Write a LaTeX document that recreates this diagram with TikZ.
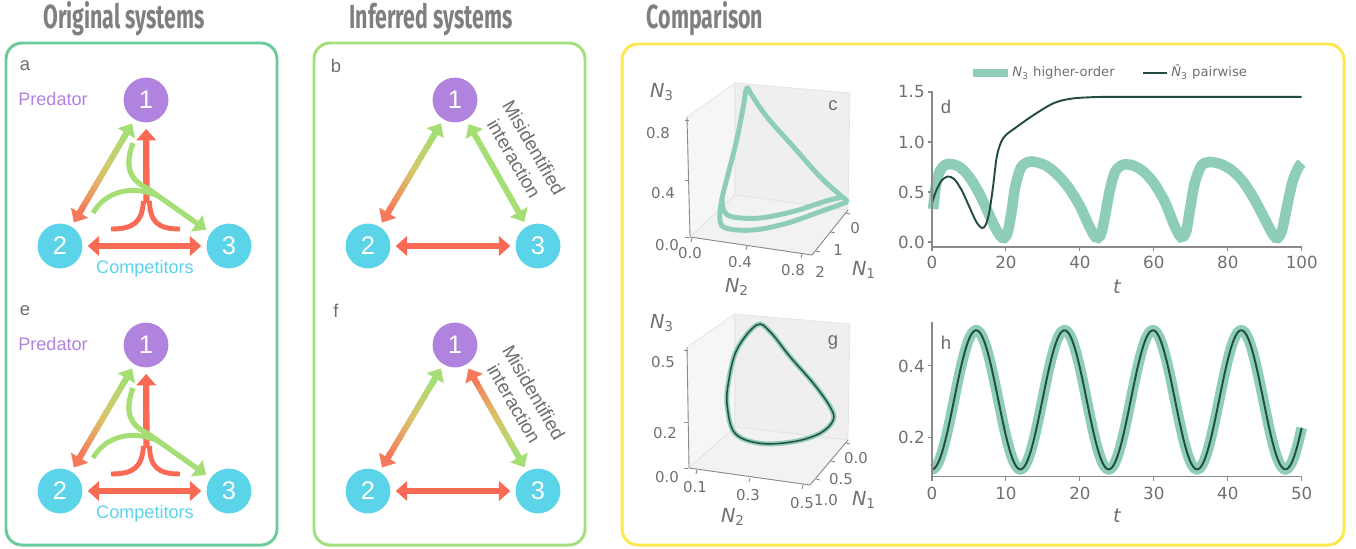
\documentclass[tikz,border=0pt]{standalone}
\usepackage{fontspec}
\setmainfont{Liberation Sans}
\newfontfamily\titlefont{Fira Sans}[FakeStretch=0.64]
\newfontfamily\plotfont{DejaVu Sans}
\usetikzlibrary{arrows.meta,calc}
\definecolor{boxorig}{HTML}{6CCB9C}
\definecolor{boxinf}{HTML}{A3DF7B}
\definecolor{boxcomp}{HTML}{FCE74E}
\definecolor{titlegray}{HTML}{7F7F7F}
\definecolor{lblgray}{HTML}{6E6E6E}
\definecolor{predcol}{HTML}{B083DE}
\definecolor{compcol}{HTML}{5BD3E8}
\definecolor{linkred}{HTML}{F96A55}
\definecolor{linkorange}{HTML}{F5795A}
\definecolor{linkmid}{HTML}{D9C56A}
\definecolor{linkgreen}{HTML}{A5DE74}
\definecolor{highcol}{HTML}{8ECDB9}
\definecolor{paircol}{HTML}{234D3E}
\definecolor{axgray}{HTML}{8A8A8A}
\definecolor{tickgray}{HTML}{707070}
\definecolor{paneside}{HTML}{F6F6F6}
\definecolor{paneback}{HTML}{EFEFEF}
\definecolor{panefloor}{HTML}{F2F2F2}

% double arrow whose colour runs from #3 (at node #1) over linkmid to #4 (at node #2)
\newcommand\gradlink[4]{%
  \coordinate (gA) at ($(#1)!21pt!(#2)$);
  \coordinate (gB) at ($(#2)!21pt!(#1)$);
  \foreach \k in {0,...,15}{%
    \pgfmathtruncatemacro\mixpc{100*\k/15}
    \ifnum\mixpc<50
      \pgfmathtruncatemacro\mixlo{2*\mixpc}\def\segcol{linkmid!\mixlo!#3}%
    \else
      \pgfmathtruncatemacro\mixhi{2*\mixpc-100}\def\segcol{#4!\mixhi!linkmid}%
    \fi
    \draw[line width=3.4pt, color=\segcol] ($(gA)!{\k/16}!(gB)$) -- ($(gA)!{(\k+1.2)/16}!(gB)$);
  }
  \draw[line width=3.4pt, #3, ->] ($(#1)!26pt!(#2)$) -- ($(#1)!15.5pt!(#2)$);
  \draw[line width=3.4pt, #4, ->] ($(#2)!26pt!(#1)$) -- ($(#2)!15.5pt!(#1)$);
}

\begin{document}
\begin{tikzpicture}[x=0.02cm, y=-0.02cm, >={Triangle[width=11pt,length=6.5pt]},
  sysbox/.style={line width=1.7pt, rounded corners=0.32cm},
  paneltitle/.style={font=\titlefont\bfseries\fontsize{19}{19}\selectfont, text=titlegray, anchor=base},
  panellbl/.style={font=\fontsize{10.5}{10.5}\selectfont, text=lblgray},
  pred/.style={circle, fill=predcol, text=white, minimum size=25.5pt, inner sep=0pt, font=\fontsize{14.5}{14.5}\selectfont},
  comp/.style={pred, fill=compcol},
  grouptext/.style={font=\fontsize{10.3}{10.3}\selectfont},
  misid/.style={font=\fontsize{10.8}{13}\selectfont, text=lblgray, rotate=-60, align=center},
  redlink/.style={draw=linkred, line width=3.6pt},
  greenlink/.style={draw=linkgreen, line width=3.4pt},
  redtail/.style={draw=linkred, line width=2.8pt},
  greentail/.style={draw=linkgreen, line width=2.8pt},
  pane/.style={draw=gray!22, line width=0.4pt},
  axline/.style={draw=axgray, line width=0.5pt},
  spine/.style={draw=axgray, line width=0.6pt},
  ticklbl/.style={font=\plotfont\fontsize{9.5}{9.5}\selectfont, text=tickgray, inner sep=0pt},
  smalltick/.style={ticklbl, font=\plotfont\fontsize{8.5}{8.5}\selectfont},
  axlbl/.style={font=\plotfont\itshape\fontsize{11}{11}\selectfont, text=tickgray, inner sep=0pt},
  legtext/.style={font=\plotfont\fontsize{7.5}{7.5}\selectfont, text=tickgray, inner sep=0pt},
  higher/.style={draw=highcol, line cap=butt},
  pairw/.style={draw=paircol, line width=1.1pt},
]
\useasboundingbox (0,0) rectangle (1356,548);

% titles and frames
\node[paneltitle] (tOrig) at (124,28) {Original systems};
\node[paneltitle] (tInf) at (431,28) {Inferred systems};
\node[paneltitle] (tComp) at (705,28) {Comparison};
\draw[sysbox, boxorig] (6,43) rectangle (277,545);
\draw[sysbox, boxinf] (314,43) rectangle (585,545);
\draw[sysbox, boxcomp] (622,44) rectangle (1344,545);

% original systems (a, e)
\foreach \lbl/\dy in {a/0,e/245}{
  \begin{scope}[shift={(0,\dy)}]
    \node[panellbl] (lbl\lbl) at (25,66) {\lbl};
    \node[pred] (p1\lbl) at (146,100) {1};
    \node[comp] (p2\lbl) at (60,246) {2};
    \node[comp] (p3\lbl) at (229,246) {3};
    \node[grouptext, text=predcol] (pt\lbl) at (53,99) {Predator};
    \node[grouptext, text=compcol] (ct\lbl) at (145,269) {Competitors};
    % pairwise
    \gradlink{p2\lbl}{p1\lbl}{linkorange}{linkgreen}
    \draw[redlink, <->, shorten <=2.8pt, shorten >=2.8pt] (p2\lbl) -- (p3\lbl);
    % 2 and 3 acting on 1
    \coordinate (rl\lbl) at (111,229);
    \coordinate (rr\lbl) at (180,229);
    \coordinate (rj\lbl) at (146.5,203);
    \draw[redtail] (rl\lbl) .. controls (134,229) and (142,222) .. (143.5,201);
    \draw[redtail] (rr\lbl) .. controls (158,229) and (150,222) .. (149.5,201);
    \draw[redlink, ->, shorten >=3.5pt] (rj\lbl) -- (p1\lbl);
    % 1 and 2 acting on 3
    \coordinate (gl\lbl) at (133,143);
    \coordinate (gk\lbl) at (93,213);
    \coordinate (gj\lbl) at (147,188);
    \coordinate (gm\lbl) at (158,196);
    \draw[greentail, line width=3pt, ->, shorten >=3pt] (gl\lbl) .. controls (124,167) and (130,180) .. (gj\lbl) -- (p3\lbl);
    \draw[greentail] (gk\lbl) .. controls (106,190) and (134,185) .. (gm\lbl);
  \end{scope}
}

% inferred systems (b, f)
\foreach \lbl/\dy in {b/0,f/245}{
  \begin{scope}[shift={(0,\dy)}]
    \node[panellbl] (lbl\lbl) at (336,66) {\lbl};
    \node[pred] (p1\lbl) at (455,100) {1};
    \node[comp] (p2\lbl) at (368,246) {2};
    \node[comp] (p3\lbl) at (538,246) {3};
    \node[misid] (mi\lbl) at (524,153) {Misidentified\\interaction};
    \gradlink{p2\lbl}{p1\lbl}{linkorange}{linkgreen}
    \draw[redlink, <->, shorten <=2.8pt, shorten >=2.8pt] (p2\lbl) -- (p3\lbl);
  \end{scope}
}
\draw[greenlink, <->, shorten <=2.8pt, shorten >=2.8pt] (p1b) -- (p3b);
\gradlink{p1f}{p3f}{linkorange}{linkgreen}

% c: phase space, higher-order
\coordinate (cF) at (690,237); \coordinate (cB) at (735,195);
\coordinate (cR) at (848,210); \coordinate (cFR) at (812,255);
\coordinate (cFT) at (687,117); \coordinate (cBT) at (735,83); \coordinate (cRT) at (850,93);
\filldraw[pane, fill=paneside] (cF) -- (cB) -- (cBT) -- (cFT) -- cycle;
\filldraw[pane, fill=paneback] (cB) -- (cR) -- (cRT) -- (cBT) -- cycle;
\filldraw[pane, fill=panefloor] (cF) -- (cFR) -- (cR) -- (cB) -- cycle;
\draw[axline] (cFT) -- (cF) -- (cFR) -- (cR);
\foreach \yy in {120,180,237} \draw[axline] (689,\yy) -- ++(-4,0);
\foreach \xx/\yy in {692/238,747/246,802/254} \draw[axline] (\xx,\yy) -- ++(-1,4);
\foreach \xx/\yy in {846/213,831/232,816/251} \draw[axline] (\xx,\yy) -- ++(4,1);
\draw[higher, line width=2.8pt, line join=round] plot[smooth cycle, tension=0.6] coordinates {(746.7,88.3) (743.3,106.7) (736.7,140) (728.3,173.3) (721.7,200) (720,220) (726.7,228.3) (753.3,230) (786.7,223.3) (820,211.7) (843.3,203.3) (846.7,200.7) (840,195) (820,176.7) (793.3,146.7) (766.7,116.7) (751.7,95)};
\draw[higher, line width=2.8pt] plot[smooth, tension=0.6] coordinates {(722,199) (724,211) (733,217) (760,218) (795,211) (826,201) (843,197)};
\node[smalltick] (cz8) at (658,133) {0.8};
\node[smalltick] (cz4) at (663,193) {0.4};
\node[smalltick] (cz0) at (667,245) {0.0};
\node[smalltick] (cx0) at (690,253) {0.0};
\node[smalltick] (cx4) at (740,262) {0.4};
\node[smalltick] (cx8) at (793,270) {0.8};
\node[smalltick] (cy0) at (855,228) {0};
\node[smalltick] (cy1) at (838,250) {1};
\node[smalltick] (cy2) at (820,272) {2};
\node[axlbl] (cN3) at (662,92) {N\textsubscript{\upshape 3}};
\node[axlbl] (cN2) at (737,287) {N\textsubscript{\upshape 2}};
\node[axlbl] (cN1) at (864,270) {N\textsubscript{\upshape 1}};
\node[panellbl] (lblc) at (833,106) {c};

% g: phase space, both models
\coordinate (gF) at (689,468); \coordinate (gB) at (735,427);
\coordinate (gR) at (848,440); \coordinate (gFR) at (810,485);
\coordinate (gFT) at (687,347); \coordinate (gBT) at (735,314); \coordinate (gRT) at (850,324);
\filldraw[pane, fill=paneside] (gF) -- (gB) -- (gBT) -- (gFT) -- cycle;
\filldraw[pane, fill=paneback] (gB) -- (gR) -- (gRT) -- (gBT) -- cycle;
\filldraw[pane, fill=panefloor] (gF) -- (gFR) -- (gR) -- (gB) -- cycle;
\draw[axline] (gFT) -- (gF) -- (gFR) -- (gR);
\foreach \yy in {350,422,468} \draw[axline] (688,\yy) -- ++(-4,0);
\foreach \xx/\yy in {697/470,750/478,803/485} \draw[axline] (\xx,\yy) -- ++(-1,4);
\foreach \xx/\yy in {846/443,831/461,816/479} \draw[axline] (\xx,\yy) -- ++(4,1);
\draw[higher, line width=2.8pt] plot[smooth cycle, tension=0.6] coordinates {(756.7,325) (736.7,350) (728.3,383.3) (727.3,406.7) (735,433.3) (760,443.3) (793.3,441.7) (820,433.3) (833.3,420) (830,406.7) (813.3,383.3) (790,356.7) (770,331.7)};
\draw[pairw, line width=0.85pt] plot[smooth cycle, tension=0.6] coordinates {(756.7,325) (736.7,350) (728.3,383.3) (727.3,406.7) (735,433.3) (760,443.3) (793.3,441.7) (820,433.3) (833.3,420) (830,406.7) (813.3,383.3) (790,356.7) (770,331.7)};
\node[smalltick] (gz5) at (663,362) {0.5};
\node[smalltick] (gz2) at (665,433) {0.2};
\node[smalltick] (gz0) at (667,477) {0.0};
\node[smalltick] (gx1) at (695,487) {0.1};
\node[smalltick] (gx3) at (748,495) {0.3};
\node[smalltick] (gx5) at (802,503) {0.5};
\node[smalltick] (gy0) at (856,458) {0.0};
\node[smalltick] (gy5) at (841,479) {0.5};
\node[smalltick] (gy1) at (826,500) {1.0};
\node[axlbl] (gN3) at (662,323) {N\textsubscript{\upshape 3}};
\node[axlbl] (gN2) at (733,517) {N\textsubscript{\upshape 2}};
\node[axlbl] (gN1) at (864,500) {N\textsubscript{\upshape 1}};
\node[panellbl] (lblg) at (833,342) {g};

% d: time series, pairwise fit drifts away
\draw[higher, line width=5pt] (973,73) -- (1008,73);
\node[legtext, anchor=west] (legH) at (1012,73) {{\itshape N}\textsubscript{3} higher-order};
\draw[pairw] (1143,73) -- (1167,73);
\node[legtext, anchor=west] (legP) at (1171,72) {{\itshape \^{N}}\textsubscript{3} pairwise};
\begin{scope}[shift={(932,242)}, xscale=3.697, yscale=-100]
  \draw[higher, line width=6pt] plot[smooth, tension=0.5] coordinates {(0.3,0.33) (1,0.55) (2,0.7) (3.5,0.77) (5,0.78) (7,0.76) (9,0.7) (11,0.6) (13,0.47) (15,0.31) (17,0.15) (18.5,0.06) (19.5,0.04) (20.5,0.1) (21.5,0.3) (22.5,0.55) (24,0.74) (26,0.8) (28,0.8) (31,0.76) (34,0.67) (37,0.54) (40,0.36) (42.5,0.16) (44.2,0.05) (45.5,0.06) (46.5,0.2) (48,0.5) (49.5,0.7) (51.5,0.77) (54,0.77) (57,0.71) (60,0.59) (63,0.4) (65.5,0.17) (67.3,0.05) (68.7,0.1) (69.8,0.33) (71,0.58) (72.8,0.76) (75,0.8) (78,0.78) (81,0.72) (84,0.61) (87,0.44) (90,0.23) (92.3,0.07) (93.5,0.04) (94.7,0.12) (96,0.35) (97.5,0.6) (99,0.74) (100,0.79)};
  \draw[pairw] plot[smooth, tension=0.5] coordinates {(0,0.39) (1,0.5) (2.5,0.61) (4.2,0.655) (6,0.63) (8,0.52) (10,0.36) (12,0.2) (13.5,0.14) (14.5,0.17) (15.5,0.3) (16.5,0.55) (17.5,0.85) (18.7,1.0) (20,1.07) (22.5,1.14) (27.5,1.27) (33,1.39) (38,1.435) (45,1.45) (55,1.452) (100,1.452)};
  \draw[spine] (0,1.51) -- (0,-0.05) -- (100,-0.05);
  \foreach \v in {0.0,0.5,1.0,1.5}{
    \draw[spine] (0,\v) -- (-1.1,\v);
    \node[ticklbl, anchor=east] at (-1.9,\v) {\v};
  }
  \foreach \t in {0,20,...,100}{
    \draw[spine] (\t,-0.05) -- (\t,-0.09);
    \node[ticklbl] at (\t,-0.2) {\t};
  }
  \node[axlbl] (dT) at (50,-0.45) {t};
  \node[panellbl] (lbld) at (3.8,1.35) {d};
\end{scope}

% h: time series, both models agree
\begin{scope}[shift={(932,508.6)}, xscale=7.394, yscale=-356.7]
  \draw[higher, line width=6pt] plot[domain=0:50, samples=240] (\x, {0.305-0.195*cos(30.126*\x)});
  \draw[pairw] plot[domain=0:50, samples=240] (\x, {0.305-0.195*cos(30.126*\x)});
  \draw[spine] (0,0.524) -- (0,0.0894) -- (50,0.0894);
  \foreach \v in {0.2,0.4}{
    \draw[spine] (0,\v) -- (-0.55,\v);
    \node[ticklbl, anchor=east] at (-0.95,\v) {\v};
  }
  \foreach \t in {0,10,...,50}{
    \draw[spine] (\t,0.0894) -- (\t,0.078);
    \node[ticklbl] at (\t,0.0437) {\t};
  }
  \node[axlbl] (hT) at (25,-0.0207) {t};
  \node[panellbl] (lblh) at (1.9,0.464) {h};
\end{scope}
\end{tikzpicture}
\end{document}
